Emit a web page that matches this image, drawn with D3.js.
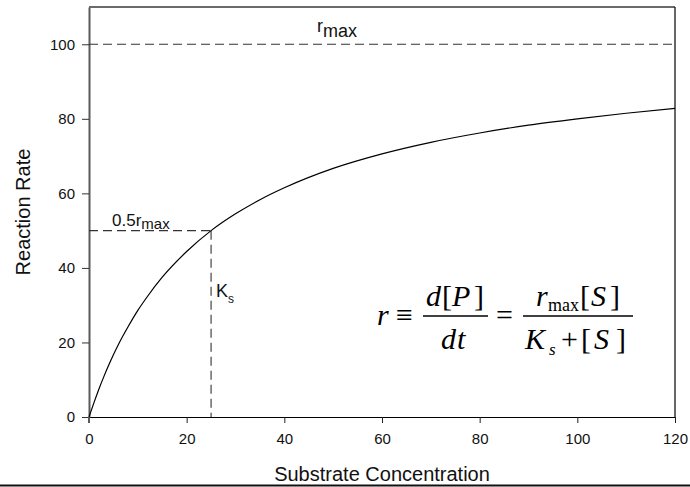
<!DOCTYPE html>
<html>
<head>
<meta charset="utf-8">
<script src="https://cdn.jsdelivr.net/npm/d3@7"></script>
<style>
  body { margin: 0; background: #fff; }
  svg { display: block; font-family: "Liberation Sans", Arial, sans-serif; }
  .eq { font-family: "Liberation Serif", "Times New Roman", serif; }
</style>
</head>
<body>
<svg id="chart" width="690" height="487"></svg>
<script>
// substrate concentration [S] and reaction rate
const substrate = [0, 1, 2, 3, 4, 5, 6, 8, 10, 12, 15, 20, 25, 30, 35, 40, 50, 60, 70, 80, 90, 100, 110, 120];
const rate = [0, 3.8, 7.4, 10.7, 13.8, 16.7, 19.4, 24.2, 28.6, 32.4, 37.5, 44.4, 50.0, 54.5, 58.3, 61.5, 66.7, 70.6, 73.7, 76.2, 78.3, 80.0, 81.5, 82.8];

const xTicks = [0, 20, 40, 60, 80, 100, 120];
const yTicks = [0, 20, 40, 60, 80, 100];

const rMax = 100;
const halfRMax = 50;
const ks = 25;

const margin = { top: 7, right: 15, bottom: 70, left: 89 };
const width = 690, height = 487;

const svg = d3.select("#chart");

const x = d3.scaleLinear().domain([0, 120]).range([margin.left, width - margin.right]);
const y = d3.scaleLinear().domain([0, 110]).range([height - margin.bottom, margin.top]);

// axes
const xAxis = svg.append("g")
  .attr("transform", `translate(0,${y(0)})`)
  .call(d3.axisBottom(x).tickValues(xTicks).tickSize(6).tickSizeOuter(0).tickPadding(10));
xAxis.select(".domain").attr("stroke", "#000").attr("stroke-width", 1.2);
xAxis.selectAll(".tick line").attr("stroke", "#222");
xAxis.selectAll(".tick text").attr("font-size", 15).attr("fill", "#111")
  .attr("font-family", "Liberation Sans, Arial, sans-serif");

const yAxis = svg.append("g")
  .attr("transform", `translate(${x(0)},0)`)
  .call(d3.axisLeft(y).tickValues(yTicks).tickSize(7).tickSizeOuter(0).tickPadding(7));
yAxis.select(".domain").attr("stroke", "#5a5a5a").attr("stroke-width", 2);
yAxis.selectAll(".tick line").attr("stroke", "#333");
yAxis.selectAll(".tick text").attr("font-size", 15).attr("fill", "#111")
  .attr("font-family", "Liberation Sans, Arial, sans-serif");

// left axis line continues a little below zero
svg.append("line")
  .attr("x1", x(0)).attr("x2", x(0))
  .attr("y1", y(0)).attr("y2", y(0) + 6)
  .attr("stroke", "#5a5a5a").attr("stroke-width", 2);

// frame top + right
svg.append("line")
  .attr("x1", x(0)).attr("x2", x(120))
  .attr("y1", y(110)).attr("y2", y(110))
  .attr("stroke", "#6a6a6a").attr("stroke-width", 2);
svg.append("line")
  .attr("x1", x(120)).attr("x2", x(120))
  .attr("y1", y(110)).attr("y2", y(0))
  .attr("stroke", "#000").attr("stroke-width", 1.2);

// dashed guide lines
const dash = "9,5";
svg.append("line")
  .attr("x1", x(0)).attr("x2", x(120))
  .attr("y1", y(rMax)).attr("y2", y(rMax))
  .attr("stroke", "#333").attr("stroke-width", 1.2).attr("stroke-dasharray", dash);
svg.append("line")
  .attr("x1", x(0)).attr("x2", x(ks))
  .attr("y1", y(halfRMax)).attr("y2", y(halfRMax))
  .attr("stroke", "#333").attr("stroke-width", 1.2).attr("stroke-dasharray", dash);
svg.append("line")
  .attr("x1", x(ks)).attr("x2", x(ks))
  .attr("y1", y(halfRMax)).attr("y2", y(0))
  .attr("stroke", "#444").attr("stroke-width", 1.2).attr("stroke-dasharray", dash);

// curve
const line = d3.line()
  .x((d, i) => x(substrate[i]))
  .y(d => y(d))
  .curve(d3.curveMonotoneX);
svg.append("path")
  .datum(rate)
  .attr("d", line)
  .attr("fill", "none")
  .attr("stroke", "#000")
  .attr("stroke-width", 1.2);

// annotations
const rmaxLbl = svg.append("text").attr("x", 317).attr("y", 32).attr("font-size", 18).attr("fill", "#111");
rmaxLbl.append("tspan").text("r");
rmaxLbl.append("tspan").attr("dy", 5).text("max");

const halfLbl = svg.append("text").attr("x", 112).attr("y", 226).attr("font-size", 17).attr("fill", "#111");
halfLbl.append("tspan").text("0.5r");
halfLbl.append("tspan").attr("dy", 3).attr("font-size", 15).text("max");

const ksLbl = svg.append("text").attr("x", 216).attr("y", 297).attr("font-size", 18).attr("fill", "#111");
ksLbl.append("tspan").text("K");
ksLbl.append("tspan").attr("dy", 6).attr("font-size", 12).text("s");

// axis titles
svg.append("text")
  .attr("x", (x(0) + x(120)) / 2).attr("y", 481)
  .attr("text-anchor", "middle").attr("font-size", 20).attr("fill", "#111")
  .text("Substrate Concentration");
svg.append("text")
  .attr("transform", `translate(30,${(y(0) + y(110)) / 2}) rotate(-90)`)
  .attr("text-anchor", "middle").attr("font-size", 20).attr("fill", "#111")
  .text("Reaction Rate");

// bottom rule
svg.append("line")
  .attr("x1", 0).attr("x2", width)
  .attr("y1", 485.5).attr("y2", 485.5)
  .attr("stroke", "#111").attr("stroke-width", 2);

// equation  r ≡ d[P]/dt = rmax[S] / (Ks + [S]), glyphs placed one by one
const eq = svg.append("g").attr("class", "eq").attr("fill", "#000");
function glyph(str, gx, gy, opts = {}) {
  eq.append("text")
    .attr("x", gx).attr("y", gy)
    .attr("font-style", opts.italic ? "italic" : "normal")
    .attr("font-size", opts.size || 30)
    .text(str);
}
const midY = 325, numY = 306, denY = 349, barY = 316;

glyph("r", 377, midY, { italic: true });
glyph("≡", 396, midY);

glyph("d", 426, numY, { italic: true });
glyph("[", 442, numY);
glyph("P", 452, numY, { italic: true });
glyph("]", 474, numY);
eq.append("line").attr("x1", 423).attr("x2", 488).attr("y1", barY).attr("y2", barY)
  .attr("stroke", "#000").attr("stroke-width", 1.3);
glyph("d", 441, denY, { italic: true });
glyph("t", 457, denY, { italic: true });

glyph("=", 496, midY);

glyph("r", 536, numY, { italic: true });
glyph("max", 548, numY + 5, { size: 18 });
glyph("[", 580, numY);
glyph("S", 591, numY, { italic: true });
glyph("]", 610, numY);
eq.append("line").attr("x1", 523).attr("x2", 633).attr("y1", barY).attr("y2", barY)
  .attr("stroke", "#000").attr("stroke-width", 1.3);
glyph("K", 525, denY, { italic: true });
glyph("s", 549, denY + 6, { italic: true, size: 17 });
glyph("+", 561, denY);
glyph("[", 581, denY);
glyph("S", 594, denY, { italic: true });
glyph("]", 616, denY);
</script>
</body>
</html>
